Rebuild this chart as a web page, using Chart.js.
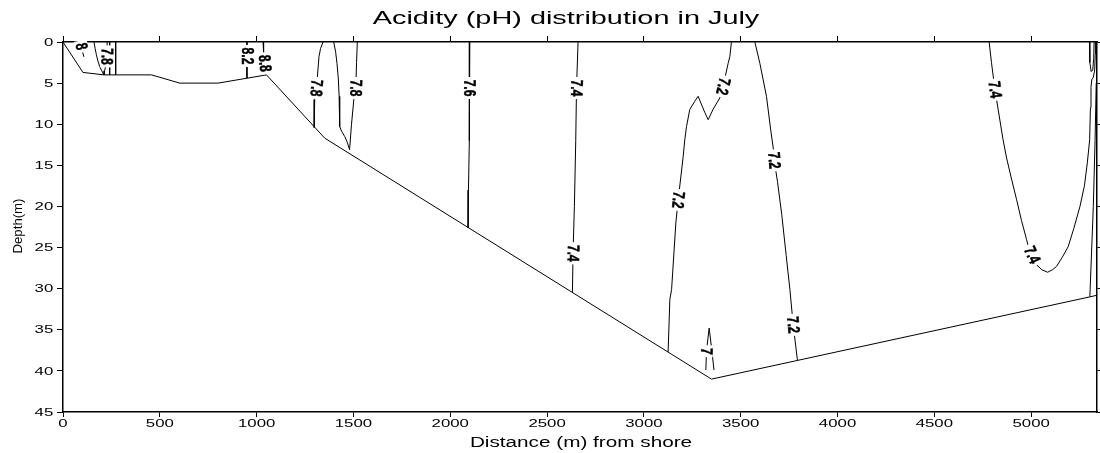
<!DOCTYPE html>
<html>
<head>
<meta charset="utf-8">
<script src="https://cdn.jsdelivr.net/npm/chart.js@4.4.1/dist/chart.umd.min.js"></script>
<style>
  html, body { margin: 0; padding: 0; background: #fff; overflow: hidden; }
  canvas { display: block; }
</style>
</head>
<body>
<canvas id="ph" width="1100" height="453"></canvas>
<script>
// Axis ticks
const distanceTicks = [0, 500, 1000, 1500, 2000, 2500, 3000, 3500, 4000, 4500, 5000];
const depthTicks = [0, 5, 10, 15, 20, 25, 30, 35, 40, 45];

// Lake bed profile (distance from shore in m, depth in m)
const bedDistance = [0, 103, 212, 457, 603, 801, 1051, 1352, 3349, 5303, 5340];
const bedDepth    = [0, 3.7, 4.0, 4.0, 5.0, 5.0, 4.0, 11.7, 41.0, 31.0, 30.8];

// pH isolines, near shore
const iso8Dist   = [93, 95, 102, 108];
const iso8Depth  = [0, 0.5, 1.3, 1.8];
const isoAuxADist  = [160, 166, 172, 180, 190, 200, 210];
const isoAuxADepth = [0, 0.8, 1.5, 2.3, 3.0, 3.5, 3.95];
const iso78aDist  = [228, 227, 222, 215, 212];
const iso78aDepth = [0, 1.75, 2.8, 3.5, 4.0];
const isoAuxBDist  = [241, 241];
const isoAuxBDepth = [0, 4.0];
const isoAuxCDist  = [272, 272];
const isoAuxCDepth = [0, 4.0];
const iso82Dist  = [950, 950];
const iso82Depth = [0, 4.4];
const iso88Dist  = [1033, 1036, 1042, 1047];
const iso88Depth = [0, 1.2, 2.6, 4.0];

// pH isolines, slope
const iso78bDist  = [1343, 1330, 1322, 1309, 1300, 1297];
const iso78bDepth = [0, 0.8, 1.8, 5.6, 7.0, 10.4];
const isoAuxDDist  = [1398, 1408, 1415, 1422, 1426, 1429, 1440, 1455, 1468, 1480];
const isoAuxDDepth = [0, 1.2, 2.6, 4.5, 6.6, 10.3, 10.9, 11.5, 12.2, 13.1];
const iso78cDist  = [1520, 1516, 1512, 1502, 1490, 1480];
const iso78cDepth = [0, 2.5, 5.6, 7.0, 10.0, 13.1];
const iso76Dist  = [2101, 2100, 2097, 2094, 2092];
const iso76Depth = [0, 6, 12, 18, 22.6];
const iso74aDist  = [2660, 2652, 2648, 2641, 2634, 2631];
const iso74aDepth = [0, 5.6, 12, 20, 25.7, 30.4];

// pH isolines, deep basin
const iso72aDist  = [3452, 3444, 3435, 3409, 3392, 3357, 3332, 3315, 3280, 3263, 3237, 3220, 3211, 3203, 3177, 3165, 3143, 3134, 3125];
const iso72aDepth = [0, 1.75, 2.6, 5.4, 6.8, 8.2, 9.45, 8.6, 6.6, 7.2, 8.2, 10.3, 11.9, 13.9, 19.2, 22.0, 30.1, 31.3, 37.7];
const iso72bDist  = [3573, 3599, 3633, 3655, 3668, 3673, 3690, 3712, 3735, 3754, 3771, 3793];
const iso72bDepth = [0, 2.6, 6.6, 10.7, 12.9, 14.4, 17, 21, 26, 30.1, 34.4, 38.7];
const iso70Dist  = [3320, 3323, 3337, 3350, 3362];
const iso70Depth = [39.9, 37.6, 34.8, 37.3, 39.9];

// pH isolines, far shore
const iso74bDist  = [4783, 4795, 4813, 4835, 4855, 4873, 4900, 4925, 4950, 4976, 4993, 5010, 5028, 5055, 5085, 5110, 5131, 5160, 5191, 5220, 5252, 5275, 5290, 5302, 5306, 5309, 5313, 5321, 5328, 5331, 5332];
const iso74bDepth = [0, 2.5, 5.8, 9, 11.9, 14.1, 16.8, 19.2, 21.7, 24.0, 25.6, 26.5, 27.1, 27.7, 28.0, 27.7, 27.3, 26.2, 24.9, 22.7, 20.0, 17.5, 14.7, 11.9, 8, 5.5, 4.6, 4.3, 3.4, 1.5, 0];
const isoAuxEDist  = [5303, 5321, 5330, 5336, 5338, 5340];
const isoAuxEDepth = [31.0, 20.0, 12, 5, 2, 0];
const isoAuxFDist  = [5301, 5303, 5310, 5318, 5323, 5325];
const isoAuxFDepth = [0, 2.5, 3.6, 3.4, 2, 0];

// Isoline labels: line index, text, distance, depth
const labelLine  = [0, 2, 5, 6, 7, 9, 10, 11, 11, 12, 12, 13, 13, 14, 15, 15];
const labelText  = ['8', '7.8', '8.2', '8.8', '7.8', '7.8', '7.6', '7.4', '7.4', '7.2', '7.2', '7.2', '7.2', '7', '7.4', '7.4'];
const labelDist  = [95, 227, 950, 1042, 1309, 1512, 2100, 2652, 2634, 3409, 3177, 3673, 3771, 3323, 4813, 5005];
const labelDepth = [0.55, 1.75, 1.7, 2.6, 5.6, 5.6, 5.6, 5.6, 25.7, 5.4, 19.2, 14.4, 34.4, 37.6, 5.8, 25.9];

const isolines = [
  [iso8Dist, iso8Depth], [isoAuxADist, isoAuxADepth], [iso78aDist, iso78aDepth],
  [isoAuxBDist, isoAuxBDepth], [isoAuxCDist, isoAuxCDepth], [iso82Dist, iso82Depth],
  [iso88Dist, iso88Depth], [iso78bDist, iso78bDepth], [isoAuxDDist, isoAuxDDepth],
  [iso78cDist, iso78cDepth], [iso76Dist, iso76Depth], [iso74aDist, iso74aDepth],
  [iso72aDist, iso72aDepth], [iso72bDist, iso72bDepth], [iso70Dist, iso70Depth],
  [iso74bDist, iso74bDepth], [isoAuxEDist, isoAuxEDepth], [isoAuxFDist, isoAuxFDepth]
];

const toPoints = (xs, ys) => xs.map((x, i) => ({ x: x, y: ys[i] }));
const lineStyle = { showLine: true, pointRadius: 0, borderColor: '#000', borderWidth: 1, tension: 0, fill: false };

const datasets = isolines.map(([xs, ys]) => Object.assign({ data: toPoints(xs, ys) }, lineStyle));
datasets.push(Object.assign({ data: toPoints(bedDistance, bedDepth) }, lineStyle));

const SANS = '"Liberation Sans", Arial, sans-serif';

// Text drawn with a horizontal stretch factor (sx)
function stretchedText(ctx, text, x, y, font, sx, align) {
  ctx.save();
  ctx.font = font;
  ctx.fillStyle = '#000';
  ctx.textBaseline = 'alphabetic';
  ctx.textAlign = 'left';
  const w = ctx.measureText(text).width * sx;
  let x0 = x;
  if (align === 'center') x0 = x - w / 2;
  else if (align === 'right') x0 = x - w;
  ctx.translate(x0, y);
  ctx.scale(sx, 1);
  ctx.fillText(text, 0, 0);
  ctx.restore();
}

// Rotated labels along the isolines, with a white gap behind them
const isolineLabels = {
  id: 'isolineLabels',
  afterDatasetsDraw(chart) {
    const ctx = chart.ctx;
    const xs = chart.scales.x, ys = chart.scales.y;
    labelText.forEach((text, k) => {
      const px = xs.getPixelForValue(labelDist[k]);
      const py = ys.getPixelForValue(labelDepth[k]);
      const pts = chart.getDatasetMeta(labelLine[k]).data;
      let best = Infinity, ang = Math.PI / 2;
      for (let i = 0; i < pts.length - 1; i++) {
        const a = pts[i], b = pts[i + 1];
        const dx = b.x - a.x, dy = b.y - a.y;
        const len2 = dx * dx + dy * dy || 1;
        let t = ((px - a.x) * dx + (py - a.y) * dy) / len2;
        t = Math.max(0, Math.min(1, t));
        const qx = a.x + t * dx - px, qy = a.y + t * dy - py;
        const d = qx * qx + qy * qy;
        if (d < best) {
          best = d;
          ang = dy >= 0 ? Math.atan2(dy, dx) : Math.atan2(-dy, -dx);
        }
      }
      ctx.save();
      ctx.translate(px, py);
      ctx.rotate(ang);
      ctx.scale(1.05, 1.45);
      ctx.font = 'bold 11.5px ' + SANS;
      const w = ctx.measureText(text).width;
      ctx.fillStyle = '#fff';
      ctx.fillRect(-w / 2 - 2.5, -4.5, w + 5, 9);
      ctx.fillStyle = '#000';
      ctx.strokeStyle = '#000';
      ctx.lineWidth = 0.35;
      ctx.textAlign = 'center';
      ctx.textBaseline = 'middle';
      ctx.fillText(text, 0, 0.5);
      ctx.strokeText(text, 0, 0.5);
      ctx.restore();
    });
  }
};

// Tick labels, title and axis titles
const chartText = {
  id: 'chartText',
  afterDraw(chart) {
    const ctx = chart.ctx;
    const area = chart.chartArea;
    const xs = chart.scales.x, ys = chart.scales.y;
    const tickFont = '10.5px ' + SANS;
    xs.ticks.forEach(t => {
      stretchedText(ctx, String(t.value), xs.getPixelForValue(t.value), area.bottom + 15.3, tickFont, 1.6, 'center');
    });
    ys.ticks.forEach(t => {
      stretchedText(ctx, String(t.value), area.left - 9.7, ys.getPixelForValue(t.value) + 3.7, tickFont, 1.6, 'right');
    });
    stretchedText(ctx, 'Acidity (pH) distribution in July', 566, 24, '18.5px ' + SANS, 1.56, 'center');
    stretchedText(ctx, 'Distance (m) from shore', 581, 446.5, '14px ' + SANS, 1.48, 'center');

    ctx.save();
    ctx.translate(22, 226);
    ctx.rotate(-Math.PI / 2);
    ctx.font = '12px ' + SANS;
    ctx.fillStyle = '#000';
    ctx.textAlign = 'center';
    ctx.textBaseline = 'alphabetic';
    ctx.scale(1.1, 1.05);
    ctx.fillText('Depth(m)', 0, 0);
    ctx.restore();
  }
};

const axisGrid = (len) => ({ drawOnChartArea: false, drawTicks: true, tickLength: len, color: '#000', lineWidth: 1 });
const axisBorder = { display: true, color: '#000', width: 1.5 };
const setDistanceTicks = s => { s.ticks = distanceTicks.map(v => ({ value: v })); };
const setDepthTicks = s => { s.ticks = depthTicks.map(v => ({ value: v })); };

new Chart(document.getElementById('ph'), {
  type: 'scatter',
  data: { datasets: datasets },
  options: {
    responsive: false,
    animation: false,
    devicePixelRatio: 1,
    layout: { padding: { top: 36, left: 0, right: 0, bottom: 0 } },
    plugins: { legend: { display: false }, tooltip: { enabled: false }, title: { display: false } },
    scales: {
      x: {
        type: 'linear', position: 'bottom', min: 0, max: 5340,
        afterBuildTicks: setDistanceTicks,
        ticks: { display: false },
        grid: axisGrid(5), border: axisBorder,
        afterFit: s => { s.height = 41; }
      },
      x2: {
        type: 'linear', position: 'top', min: 0, max: 5340,
        afterBuildTicks: setDistanceTicks,
        ticks: { display: false },
        grid: axisGrid(6), border: axisBorder,
        afterFit: s => { s.height = 6; }
      },
      y: {
        type: 'linear', position: 'left', min: 0, max: 45, reverse: true,
        afterBuildTicks: setDepthTicks,
        ticks: { display: false },
        grid: axisGrid(6), border: axisBorder,
        afterFit: s => { s.width = 63; }
      },
      y2: {
        type: 'linear', position: 'right', min: 0, max: 45, reverse: true,
        afterBuildTicks: setDepthTicks,
        ticks: { display: false },
        grid: axisGrid(3), border: axisBorder,
        afterFit: s => { s.width = 3; }
      }
    }
  },
  plugins: [isolineLabels, chartText]
});
</script>
</body>
</html>
